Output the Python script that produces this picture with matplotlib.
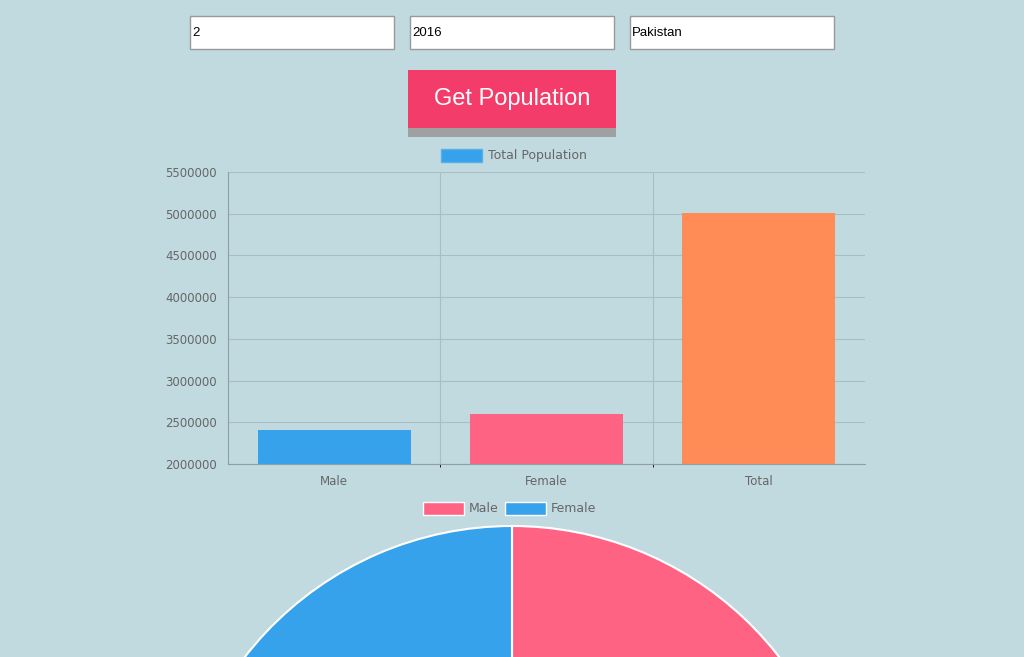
import matplotlib
matplotlib.use("Agg")
import matplotlib.pyplot as plt
from matplotlib.patches import Rectangle, Wedge

categories = ["Male", "Female", "Total"]
values = [2410000, 2605000, 5010000]
bar_colors = ["#36A2EB", "#FF6384", "#FF8C57"]
pie_labels = ["Male", "Female"]
pie_values = [2410000, 2605000]
pie_colors = ["#FF6384", "#36A2EB"]
inputs = ["2", "2016", "Pakistan"]

W, H = 1024, 657
BG = "#C0DAE0"
fig = plt.figure(figsize=(W/100, H/100), dpi=100, facecolor=BG)

def ax_px(x0, y0, x1, y1, **kw):
    return fig.add_axes([x0/W, 1-y1/H, (x1-x0)/W, (y1-y0)/H], **kw)

# overlay for UI
ui = ax_px(0, 0, W, H)
ui.set_xlim(0, W); ui.set_ylim(H, 0); ui.axis("off")
for x, t in zip([190, 410, 630], inputs):
    ui.add_patch(Rectangle((x, 16), 204, 33, facecolor="white", edgecolor="#999999", lw=1))
    ui.text(x+2, 33, t, fontsize=9.5, va="center", ha="left", color="black", family="Liberation Sans")
ui.add_patch(Rectangle((408, 128), 208, 9, facecolor="#A0A0A0", edgecolor="none"))
ui.add_patch(Rectangle((408, 70), 208, 58, facecolor="#F43C6A", edgecolor="none"))
ui.text(512, 99, "Get Population", fontsize=17, color="white", ha="center", va="center", family="Liberation Sans")
# legends
ui.add_patch(Rectangle((441, 149), 41, 13, facecolor="#36A2EB", edgecolor="#5AB0E8", lw=1))
ui.text(488, 156, "Total Population", fontsize=9, color="#666666", va="center")
ui.add_patch(Rectangle((423, 502), 41, 13, facecolor=pie_colors[0], edgecolor="white", lw=1))
ui.text(469, 509, pie_labels[0], fontsize=9, color="#666666", va="center")
ui.add_patch(Rectangle((505, 502), 41, 13, facecolor=pie_colors[1], edgecolor="white", lw=1))
ui.text(551, 509, pie_labels[1], fontsize=9, color="#666666", va="center")

# bar chart
ax = ax_px(228, 172, 865, 464)
ax.set_facecolor("none")
ax.bar(range(3), values, width=0.72, color=bar_colors)
ax.set_xlim(-0.5, 2.5); ax.set_ylim(2000000, 5500000)
ax.set_yticks(range(2000000, 5500001, 500000))
ax.set_yticklabels([str(v) for v in range(2000000, 5500001, 500000)])
ax.set_xticks(range(3)); ax.set_xticklabels(categories)
ax.set_xticks([0.5, 1.5], minor=True)
ax.tick_params(colors="#666666", labelsize=8.5, length=0, pad=8)
ax.grid(axis="y", color="#A8BEC4", lw=0.8)
ax.grid(axis="x", which="minor", color="#A8BEC4", lw=0.8)
for s in ["top", "right"]:
    ax.spines[s].set_visible(False)
for s in ["left", "bottom"]:
    ax.spines[s].set_color("#8FA0A5")
ax.set_axisbelow(True)

# pie
pa = ax_px(0, 0, W, H)
pa.set_xlim(0, W); pa.set_ylim(H, 0); pa.axis("off")
cx, cy, r = 512, 864, 338
tot = sum(pie_values)
start = 90.0
for v, c in zip(pie_values, pie_colors):
    ang = v / tot * 360
    # y-axis inverted: draw in data space with negative angles
    pa.add_patch(Wedge((cx, cy), r, -start, -start + ang, facecolor=c, edgecolor="white", lw=1.5))
    start -= ang
fig.savefig("out.png", dpi=100, facecolor=BG)
